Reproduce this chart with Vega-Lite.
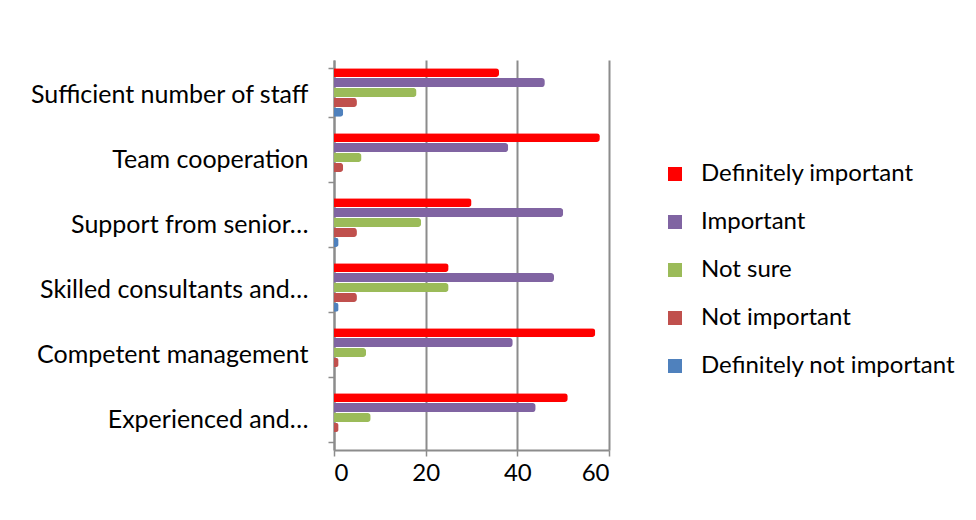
{
  "$schema": "https://vega.github.io/schema/vega-lite/v6.json",
  "autosize": {"type": "none"},
  "padding": {"left": 334, "top": 60, "right": 367, "bottom": 70},
  "width": 275,
  "height": 390,
  "background": "white",
  "data": {
    "values": [
      {"factor": "Sufficient number of staff", "response": "Definitely important", "count": 36},
      {"factor": "Sufficient number of staff", "response": "Important", "count": 46},
      {"factor": "Sufficient number of staff", "response": "Not sure", "count": 18},
      {"factor": "Sufficient number of staff", "response": "Not important", "count": 5},
      {"factor": "Sufficient number of staff", "response": "Definitely not important", "count": 2},
      {"factor": "Team cooperation", "response": "Definitely important", "count": 58},
      {"factor": "Team cooperation", "response": "Important", "count": 38},
      {"factor": "Team cooperation", "response": "Not sure", "count": 6},
      {"factor": "Team cooperation", "response": "Not important", "count": 2},
      {"factor": "Team cooperation", "response": "Definitely not important", "count": 0},
      {"factor": "Support from senior…", "response": "Definitely important", "count": 30},
      {"factor": "Support from senior…", "response": "Important", "count": 50},
      {"factor": "Support from senior…", "response": "Not sure", "count": 19},
      {"factor": "Support from senior…", "response": "Not important", "count": 5},
      {"factor": "Support from senior…", "response": "Definitely not important", "count": 1},
      {"factor": "Skilled consultants and…", "response": "Definitely important", "count": 25},
      {"factor": "Skilled consultants and…", "response": "Important", "count": 48},
      {"factor": "Skilled consultants and…", "response": "Not sure", "count": 25},
      {"factor": "Skilled consultants and…", "response": "Not important", "count": 5},
      {"factor": "Skilled consultants and…", "response": "Definitely not important", "count": 1},
      {"factor": "Competent management", "response": "Definitely important", "count": 57},
      {"factor": "Competent management", "response": "Important", "count": 39},
      {"factor": "Competent management", "response": "Not sure", "count": 7},
      {"factor": "Competent management", "response": "Not important", "count": 1},
      {"factor": "Competent management", "response": "Definitely not important", "count": 0},
      {"factor": "Experienced and…", "response": "Definitely important", "count": 51},
      {"factor": "Experienced and…", "response": "Important", "count": 44},
      {"factor": "Experienced and…", "response": "Not sure", "count": 8},
      {"factor": "Experienced and…", "response": "Not important", "count": 1},
      {"factor": "Experienced and…", "response": "Definitely not important", "count": 0}
    ]
  },
  "mark": {"type": "bar", "cornerRadiusEnd": 3},
  "encoding": {
    "y": {
      "field": "factor", "type": "nominal", "title": null,
      "sort": ["Sufficient number of staff", "Team cooperation", "Support from senior…", "Skilled consultants and…", "Competent management", "Experienced and…"],
      "scale": {"paddingInner": 0.25, "paddingOuter": 0.125},
      "axis": {"labelFontSize": 25, "labelFont": "Lato", "labelColor": "#000000", "labelPadding": 20, "labelLimit": 400, "labelBaseline": "middle", "labelOffset": 2, "tickColor": "#8c8c8c", "tickSize": 6, "domainColor": "#8c8c8c", "domainWidth": 2, "tickWidth": 1.5, "tickBand": "extent"}
    },
    "yOffset": {
      "field": "response", "type": "nominal",
      "sort": ["Definitely important", "Important", "Not sure", "Not important", "Definitely not important"],
      "scale": {"paddingInner": 0.1}
    },
    "x": {
      "field": "count", "type": "quantitative", "title": null,
      "scale": {"domain": [0, 60], "nice": false},
      "axis": {"values": [0, 20, 40, 60], "labelFontSize": 24, "labelFont": "Lato", "labelColor": "#000000", "labelPadding": 5, "grid": true, "gridColor": "#8c8c8c", "gridWidth": 2, "domainColor": "#8c8c8c", "domainWidth": 2, "tickColor": "#8c8c8c", "tickSize": 6, "tickWidth": 1.5}
    },
    "color": {
      "field": "response", "type": "nominal", "title": null,
      "sort": ["Definitely important", "Important", "Not sure", "Not important", "Definitely not important"],
      "scale": {
        "domain": ["Definitely important", "Important", "Not sure", "Not important", "Definitely not important"],
        "range": ["#FF0000", "#8064A2", "#9BBB59", "#C0504D", "#4F81BD"]
      },
      "legend": {"orient": "none", "legendX": 329, "legendY": 102, "symbolType": "square", "symbolSize": 196, "symbolStrokeWidth": 0, "labelFontSize": 24, "labelFont": "Lato", "labelColor": "#000000", "rowPadding": 24, "labelOffset": 14, "labelLimit": 400}
    }
  },
  "config": {"view": {"stroke": null}}
}
